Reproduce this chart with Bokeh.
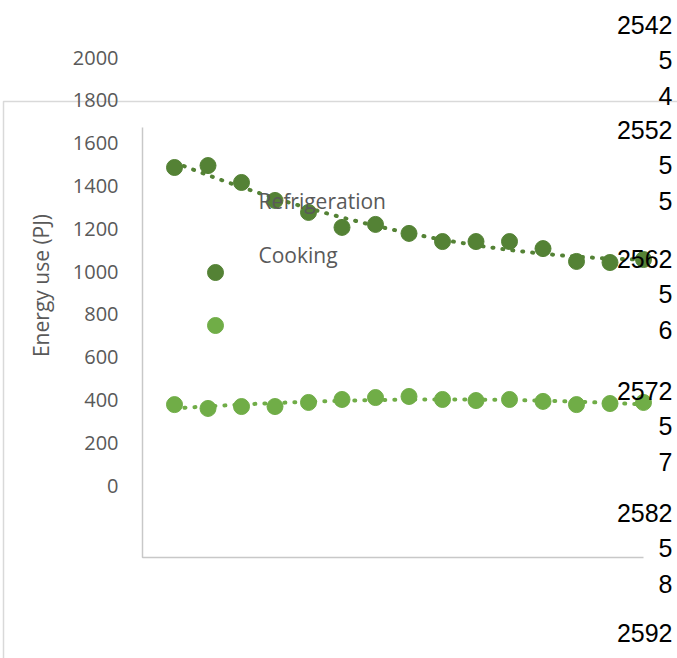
import numpy as np
from bokeh.plotting import figure
from bokeh.models import Range1d
from bokeh.core.properties import value
from bokeh.embed import file_html
from bokeh.resources import INLINE

# ---------------- data ----------------
point_index = list(range(15))
refrigeration = [1486, 1495, 1416, 1332, 1276, 1206, 1220, 1178, 1140, 1140, 1140, 1107, 1047, 1042, 1056]
cooking = [378, 360, 369, 369, 388, 402, 411, 416, 402, 397, 402, 393, 378, 383, 388]
y_ticks = [0, 200, 400, 600, 800, 1000, 1200, 1400, 1600, 1800, 2000]
y_tick_labels = [str(t) for t in y_ticks]
right_labels = [["2542", "5", "4"], ["2552", "5", "5"], ["2562", "5", "6"],
                ["2572", "5", "7"], ["2582", "5", "8"], ["2592"]]
legend_labels = ["Refrigeration", "Cooking"]
axis_title = "Energy use (PJ)"

# ---------------- geometry (picture pixels) ----------------
W, H = 677, 658
OFF = 0                   # picture offset of the figure
X0, DX = 174.0, 33.5      # x of first point, px per step
Y0, DY = 485.0, 0.214     # y of value 0, px per unit


def px2x(px):
    return (px - X0) / DX


def py2y(py):
    return (Y0 - py) / DY


DARK = "#548235"
LIGHT = "#70AD47"
GREY_TXT = "#595959"
FONT = value("Open Sans")

p = figure(width=W, height=H, output_backend="svg", toolbar_location=None,
           x_range=Range1d(px2x(OFF), px2x(OFF + W)), y_range=Range1d(py2y(OFF + H), py2y(OFF)),
           x_axis_location=None, y_axis_location=None, min_border=0,
           outline_line_color=None)
p.grid.visible = False

# outer chart-area border (partially visible)
p.line([px2x(3), px2x(3), px2x(677)], [py2y(660), py2y(101), py2y(101)],
       line_color="#D9D9D9", line_width=1.5)
# plot-area axis lines
p.line([px2x(142), px2x(142), px2x(643)], [py2y(127), py2y(557), py2y(557)],
       line_color="#C8C8C8", line_width=1.5)

# trendlines (2nd-order polynomial)
xs = np.linspace(0, 14, 200)
for series, col in ((refrigeration, DARK), (cooking, LIGHT)):
    c = np.polyfit(point_index, series, 2)
    p.line(xs, np.polyval(c, xs), line_color=col, line_width=4, line_dash="1 9",
           line_cap="round")

# data points
p.scatter(point_index, refrigeration, size=16, fill_color=DARK, line_color=DARK)
p.scatter(point_index, cooking, size=16, fill_color=LIGHT, line_color=LIGHT)

# legend markers and labels (as drawn in the reference)
p.scatter([px2x(215)], [py2y(272)], size=16, fill_color=DARK, line_color=DARK)
p.scatter([px2x(215)], [py2y(325)], size=16, fill_color=LIGHT, line_color=LIGHT)
p.text(x=[px2x(258)] * 2, y=[py2y(200), py2y(254)], text=legend_labels,
       text_align="left", text_baseline="middle", text_font=FONT,
       text_font_size="21px", text_color=GREY_TXT)

# y tick labels
p.text(x=[px2x(118)] * len(y_ticks), y=y_ticks, text=y_tick_labels,
       text_align="right", text_baseline="middle", text_font=FONT,
       text_font_size="20px", text_color=GREY_TXT)

# axis title
p.text(x=[px2x(40)], y=[py2y(285)], text=[axis_title], angle=np.pi / 2,
       text_align="center", text_baseline="middle", text_font=FONT,
       text_font_size="21px", text_color=GREY_TXT)

# right-hand labels
group_tops = [24, 129, 258, 390, 512, 632]
rx, ry, rt = [], [], []
for top, grp in zip(group_tops, right_labels):
    for k, t in enumerate(grp):
        rx.append(px2x(672))
        ry.append(py2y(top + k * 35.5))
        rt.append(t)
p.text(x=rx, y=ry, text=rt, text_align="right", text_baseline="middle",
       text_font=value("Liberation Sans"), text_font_size="25px", text_color="#000000")

open("out.html", "w").write(file_html(p, INLINE))
